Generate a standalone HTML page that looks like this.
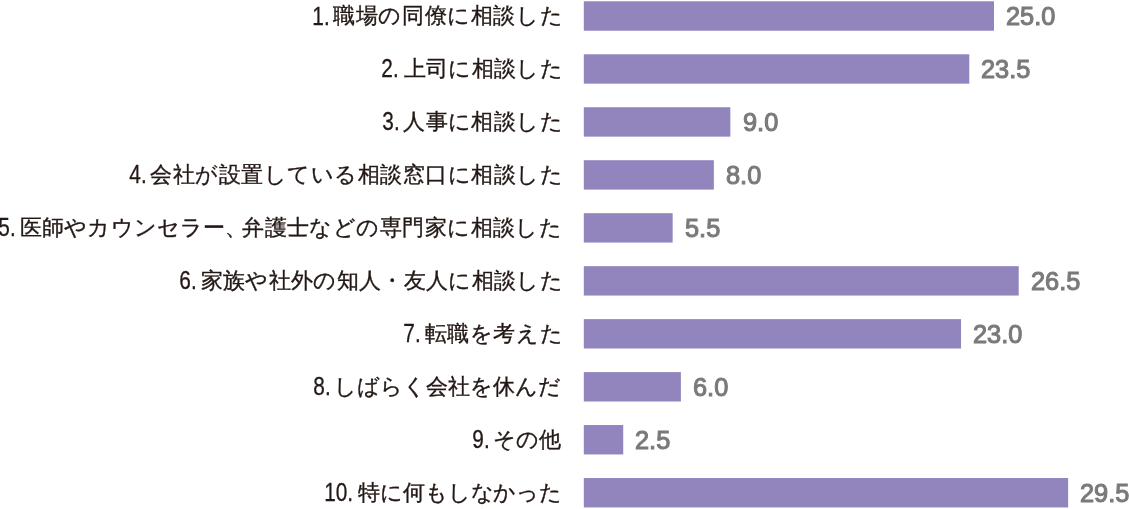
<!DOCTYPE html>
<html lang="ja"><head><meta charset="utf-8"><style>
html,body{margin:0;padding:0;background:#fff;width:1129px;height:509px;overflow:hidden}
body{position:relative;font-family:"Liberation Sans",sans-serif}
svg{position:absolute;left:0;top:0}
.w{position:absolute;left:0;top:0;width:1129px;height:509px;will-change:transform}
.t{position:absolute;font-size:22.4px;line-height:40px;height:40px;color:#231815;white-space:nowrap;-webkit-text-stroke:0.35px currentColor;}
.n{position:absolute;font-size:26.0px;line-height:40px;height:40px;color:#231815;white-space:nowrap;-webkit-text-stroke:0.3px #231815;transform:scaleX(0.8);transform-origin:100% 50%}
.v{position:absolute;font-size:26.0px;line-height:40px;height:40px;color:#7a7a7a;font-weight:normal;white-space:nowrap;-webkit-text-stroke:1.1px #7a7a7a;letter-spacing:0px;transform:scaleX(0.975);transform-origin:0 50%}
</style></head><body>
<svg width="1129" height="509"><g fill="#9285be"><rect x="583.8" y="1.30" width="410.19" height="29.4"/><rect x="583.8" y="54.27" width="385.48" height="29.4"/><rect x="583.8" y="107.24" width="146.53" height="29.4"/><rect x="583.8" y="160.21" width="130.05" height="29.4"/><rect x="583.8" y="213.18" width="88.85" height="29.4"/><rect x="583.8" y="266.15" width="434.91" height="29.4"/><rect x="583.8" y="319.12" width="377.24" height="29.4"/><rect x="583.8" y="372.09" width="97.09" height="29.4"/><rect x="583.8" y="425.06" width="39.42" height="29.4"/><rect x="583.8" y="478.03" width="484.35" height="29.4"/></g></svg>
<div class="w">
<div class="t" style="top:-3.60px;right:565.90px;letter-spacing:0.578px">職場の同僚に相談した</div><div class="n" style="top:-4.50px;right:799.57px">1.</div><div class="v" style="top:-3.70px;left:1006.19px">25.0</div><div class="t" style="top:49.37px;right:565.90px;letter-spacing:0.367px">上司に相談した</div><div class="n" style="top:48.47px;right:730.52px">2.</div><div class="v" style="top:49.27px;left:981.48px">23.5</div><div class="t" style="top:102.34px;right:565.90px;letter-spacing:0.400px">人事に相談した</div><div class="n" style="top:101.44px;right:729.75px">3.</div><div class="v" style="top:102.24px;left:742.53px">9.0</div><div class="t" style="top:155.31px;right:565.90px;letter-spacing:0.494px">会社が設置している相談窓口に相談した</div><div class="n" style="top:154.41px;right:982.32px">4.</div><div class="v" style="top:155.21px;left:726.05px">8.0</div><div class="t" style="top:208.28px;left:20.22px;letter-spacing:0.087px">医師やカウンセラー、</div><div class="t" style="top:208.28px;right:566.70px;letter-spacing:0.440px">弁護士などの専門家に相談した</div><div class="n" style="top:207.38px;right:1113.69px">5.</div><div class="v" style="top:208.18px;left:684.85px">5.5</div><div class="t" style="top:261.25px;right:565.90px;letter-spacing:0.347px">家族や社外の知人・友人に相談した</div><div class="n" style="top:260.35px;right:932.51px">6.</div><div class="v" style="top:261.15px;left:1030.91px">26.5</div><div class="t" style="top:314.22px;right:565.90px;letter-spacing:0.560px">転職を考えた</div><div class="n" style="top:313.32px;right:708.04px">7.</div><div class="v" style="top:314.12px;left:973.24px">23.0</div><div class="t" style="top:367.19px;right:567.90px;letter-spacing:0.022px">しばらく会社を休んだ</div><div class="n" style="top:366.29px;right:798.01px">8.</div><div class="v" style="top:367.09px;left:693.09px">6.0</div><div class="t" style="top:420.16px;right:568.50px;letter-spacing:-0.300px">その他</div><div class="n" style="top:419.26px;right:639.24px">9.</div><div class="v" style="top:420.06px;left:635.42px">2.5</div><div class="t" style="top:473.13px;right:566.90px;letter-spacing:-0.125px">特に何もしなかった</div><div class="n" style="top:472.23px;right:775.49px">10.</div><div class="v" style="top:473.03px;left:1080.35px">29.5</div>
</div>
</body></html>
